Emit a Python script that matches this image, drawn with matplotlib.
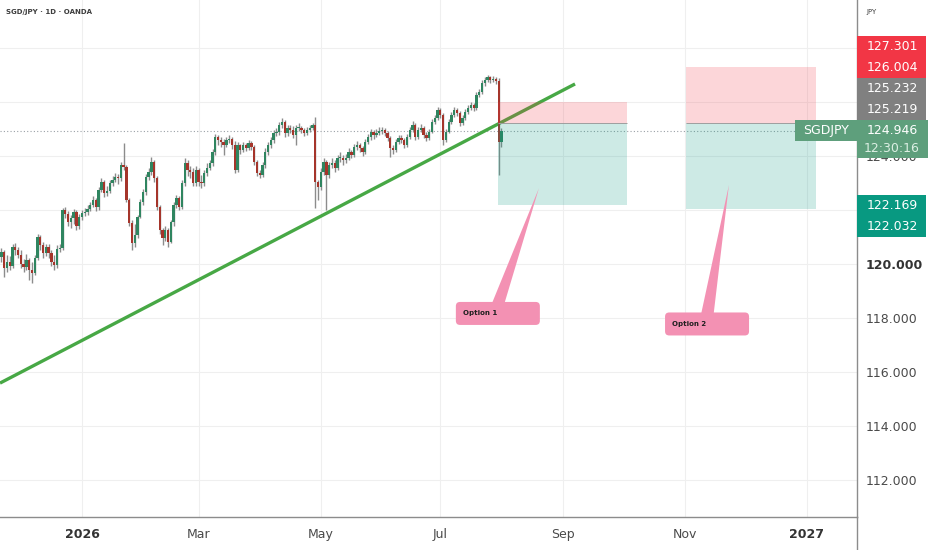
import numpy as np
import pandas as pd
import matplotlib
matplotlib.use('Agg')
import matplotlib.pyplot as plt
from matplotlib.patches import Rectangle, FancyBboxPatch, Polygon

# ---- daily candles (bar index 0 = first trading day of 2026) ----
first_bar = -29
first_open = 120.26
closes = [
    120.44, 119.85, 120.07, 119.93, 120.63, 120.52, 120.33, 120.00, 119.89, 120.15,
    119.78, 119.67, 120.22, 121.00, 120.70, 120.41, 120.63, 120.41, 120.07, 119.96,
    120.56, 120.59, 122.00, 121.85, 121.56, 121.70, 121.93, 121.41, 121.74, 121.89,
    121.93, 122.04, 122.19, 122.37, 122.11, 122.74, 123.04, 122.63, 122.70, 123.00,
    123.11, 123.22, 123.19, 123.67, 123.59,
    122.37, 121.52, 120.78, 121.07, 121.74, 122.30, 122.67, 123.22, 123.41, 123.78,
    123.19, 122.11, 121.26, 120.96, 121.26, 120.81, 121.56, 122.19, 122.44, 122.11,
    123.00, 123.74, 123.48, 123.41, 123.00, 123.48, 123.04, 123.00, 123.37, 123.56,
    123.74, 124.15, 124.70, 124.59, 124.52, 124.41, 124.59, 124.63, 124.41, 123.48,
    124.41, 124.22, 124.41, 124.30, 124.48, 124.33, 123.78,
    123.37, 123.30, 123.67, 124.15, 124.41, 124.59, 124.85, 124.89, 125.15, 125.26,
    124.85, 125.04, 124.96, 124.78, 125.04, 125.04, 124.96, 124.85, 124.96, 125.04,
    125.15, 123.04, 122.85, 123.41, 123.78, 123.30, 123.67, 123.74, 123.56, 123.93,
    123.93, 123.85, 123.93, 124.15, 124.04, 124.33, 124.41, 124.30, 124.15, 124.52,
    124.70, 124.89, 124.78, 124.85, 124.93,
    124.96, 124.85, 124.67, 124.30, 124.22, 124.52, 124.67, 124.59, 124.41, 124.70,
    124.96, 125.15, 124.70, 124.96, 125.04, 124.78, 124.67, 124.89, 125.26, 125.41,
    125.70, 125.52, 124.59, 124.89, 125.26, 125.52, 125.70, 125.59, 125.22, 125.41,
    125.63, 125.78, 125.89, 125.78, 126.26, 126.37, 126.70, 126.81, 126.93, 126.81,
    126.85, 126.78, 124.52, 124.946,
]
highs = [
    120.59, 120.52, 120.33, 120.30, 120.74, 120.78, 120.63, 120.52, 120.19, 120.37,
    120.22, 120.07, 120.33, 121.11, 121.07, 120.81, 120.74, 120.74, 120.52, 120.33,
    120.70, 120.74, 122.07, 122.11, 121.96, 121.81, 122.04, 122.00, 121.85, 122.00,
    122.07, 122.19, 122.30, 122.52, 122.44, 122.85, 123.19, 123.11, 122.89, 123.11,
    123.26, 123.37, 123.33, 123.78, 124.48,
    123.67, 122.44, 121.63, 121.48, 121.81, 122.41, 122.78, 123.33, 123.56, 123.96,
    123.85, 123.26, 122.19, 121.33, 121.41, 121.33, 121.63, 122.30, 122.56, 122.52,
    123.11, 123.93, 123.85, 123.63, 123.56, 123.63, 123.56, 123.30, 123.48, 123.74,
    123.85, 124.26, 124.81, 124.78, 124.70, 124.63, 124.70, 124.78, 124.70, 124.56,
    124.52, 124.44, 124.52, 124.48, 124.59, 124.56, 124.41,
    123.85, 123.48, 123.78, 124.30, 124.52, 124.70, 124.96, 125.04, 125.26, 125.41,
    125.33, 125.15, 125.15, 125.11, 125.15, 125.22, 125.11, 125.04, 125.07, 125.15,
    125.22, 125.44, 123.11, 123.56, 123.93, 123.85, 123.78, 123.93, 123.85, 124.04,
    124.15, 124.04, 124.07, 124.30, 124.22, 124.44, 124.56, 124.48, 124.37, 124.63,
    124.81, 125.00, 124.96, 125.00, 125.07,
    125.07, 125.04, 124.93, 124.74, 124.41, 124.63, 124.78, 124.78, 124.67, 124.81,
    125.07, 125.30, 125.22, 125.07, 125.19, 125.11, 124.89, 125.00, 125.37, 125.52,
    125.81, 125.78, 125.59, 125.00, 125.37, 125.63, 125.81, 125.78, 125.67, 125.52,
    125.74, 125.89, 126.00, 125.96, 126.37, 126.48, 126.81, 126.93, 127.00, 126.96,
    126.96, 126.93, 126.89, 125.04,
]
lows = [
    120.07, 119.52, 119.70, 119.78, 119.85, 120.33, 120.22, 119.85, 119.70, 119.78,
    119.41, 119.30, 119.59, 120.15, 120.52, 120.22, 120.30, 120.22, 119.93, 119.78,
    119.85, 120.44, 120.52, 121.70, 121.41, 121.33, 121.48, 121.26, 121.30, 121.63,
    121.78, 121.81, 121.96, 122.11, 121.96, 122.00, 122.67, 122.48, 122.52, 122.63,
    122.89, 123.04, 122.96, 123.07, 123.48,
    122.30, 121.41, 120.52, 120.63, 120.96, 121.70, 122.19, 122.56, 123.11, 123.30,
    123.04, 122.00, 121.11, 120.70, 120.85, 120.63, 120.78, 121.41, 122.07, 122.00,
    122.04, 122.89, 123.26, 123.19, 122.89, 122.89, 122.89, 122.81, 122.89, 123.26,
    123.48, 123.63, 124.04, 124.41, 124.33, 124.04, 124.33, 124.48, 124.26, 123.37,
    123.41, 124.07, 124.15, 124.19, 124.22, 124.22, 123.67,
    123.26, 123.19, 123.22, 123.56, 124.04, 124.30, 124.48, 124.74, 124.78, 125.04,
    124.70, 124.74, 124.85, 124.67, 124.41, 124.93, 124.85, 124.74, 124.78, 124.89,
    124.96, 122.07, 122.37, 122.74, 123.30, 122.00, 123.19, 123.56, 123.41, 123.48,
    123.78, 123.67, 123.74, 123.85, 123.93, 123.96, 124.22, 124.15, 124.00, 124.07,
    124.44, 124.59, 124.63, 124.70, 124.78,
    124.81, 124.74, 124.56, 123.96, 124.07, 124.15, 124.44, 124.48, 124.30, 124.33,
    124.63, 124.89, 124.59, 124.63, 124.89, 124.67, 124.56, 124.59, 124.85, 125.19,
    125.33, 125.41, 124.41, 124.52, 124.85, 125.19, 125.44, 125.48, 125.11, 125.15,
    125.33, 125.56, 125.70, 125.67, 125.70, 126.19, 126.30, 126.59, 126.74, 126.70,
    126.74, 126.67, 123.30, 124.33,
]

# time axis labels
tick_months = ['2026-01', '2026-03', '2026-05', '2026-07', '2026-09', '2026-11', '2027-01']
tick_labels = ['2026', 'Mar', 'May', 'Jul', 'Sep', 'Nov', '2027']
price_ticks = [112, 114, 116, 118, 120, 122, 124, 126, 128]
# scale labels covered by the price badges
covered_ticks = [122, 126, 128]

# trend line (bar index, price)
trend_bars = [-29.5, 177.5]
trend_prices = [115.59, 126.67]

last_price = 124.946
countdown = '12:30:16'
symbol = 'SGDJPY'

# short position tools
option_names = ['Option 1', 'Option 2']
opt_start = [149.8, 217.4]
opt_end = [196.2, 264.2]
opt_stop = [126.004, 127.301]
opt_entry = [125.219, 125.232]
opt_target = [122.169, 122.032]
# callout notes
note_bar = [134.6, 209.9]
note_price = [118.17, 117.78]
note_tip_bar = [164.5, 232.9]
note_tip_price = [122.81, 122.93]

# price scale badges
badge_text = ['127.301', '126.004', '125.232', '125.219', '122.169', '122.032']
badge_color = ['#f23645', '#f23645', '#808080', '#808080', '#089981', '#089981']

W, H = 932, 550
UP, DOWN, WICK = '#2f8560', '#a5352b', '#8c8c8c'
GREEN_TAG = '#5e9f7c'


def fx(x):
    return x / W


def fy(y):
    return 1 - y / H


fig = plt.figure(figsize=(W / 100, H / 100), dpi=100)
ax = fig.add_axes([0, 33 / H, 857 / W, 517 / H])
ax.set_xlim(-29.5, 279.0)
ax.set_ylim(110.63, 129.78)

# ticks
days = pd.bdate_range('2026-01-01', '2027-01-29')
month_str = days.strftime('%Y-%m')
tick_pos = [int(np.argmax(month_str == m)) for m in tick_months]
ax.set_xticks(tick_pos, tick_labels)
ax.set_yticks(price_ticks, ['' if p in covered_ticks else f'{p:.3f}' for p in price_ticks])
ax.yaxis.tick_right()
ax.tick_params(axis='both', length=0, labelsize=9, colors='#4a4a4a')
ax.tick_params(axis='x', pad=8)
ax.tick_params(axis='y', pad=6)
for lab in ax.get_xticklabels():
    if lab.get_text() in ('2026', '2027'):
        lab.set_fontweight('bold')
        lab.set_color('#333333')
for lab in ax.get_yticklabels():
    if lab.get_text() == '120.000':
        lab.set_fontweight('bold')
        lab.set_color('#333333')

ax.grid(True, color='#efefef', lw=0.8)
ax.set_axisbelow(True)
for s in ['top', 'left']:
    ax.spines[s].set_visible(False)
for s in ['bottom', 'right']:
    ax.spines[s].set_color('#8c8c8c')
    ax.spines[s].set_linewidth(1.0)

# candles
opens = [first_open] + closes[:-1]
xs = np.arange(first_bar, first_bar + len(closes))
o = np.array(opens)
c = np.array(closes)
cols = [UP if cc >= oo else DOWN for oo, cc in zip(o, c)]
ax.vlines(xs, lows, highs, color=WICK, lw=1.0, zorder=2)
ax.bar(xs, np.maximum(np.abs(c - o), 0.03), bottom=np.minimum(o, c), width=0.82,
       color=cols, lw=0, zorder=2.5)

# trend line
ax.plot(trend_bars, trend_prices, color='#47a845', lw=2.4, solid_capstyle='butt', zorder=2.2)

# last price dotted line
ax.axhline(last_price, color='#9aa0a6', lw=0.8, ls=(0, (1, 2)), zorder=1.5)

# position tools
for s, e, stp, ent, tgt in zip(opt_start, opt_end, opt_stop, opt_entry, opt_target):
    ax.add_patch(Rectangle((s, ent), e - s, stp - ent, facecolor=(242/255, 54/255, 69/255, 0.2),
                           edgecolor='none', zorder=3))
    ax.add_patch(Rectangle((s, tgt), e - s, ent - tgt, facecolor=(8/255, 153/255, 129/255, 0.2),
                           edgecolor='none', zorder=3))
    ax.hlines(ent, s, e, color='#9e9e9e', lw=0.7, zorder=3.1)

# callouts
px_x = 1 / 2.778   # bars per pixel
px_y = 1 / 27.0    # price per pixel
box_w, box_h = 84 * px_x, 23 * px_y
PINK = '#f391b3'
for name, nb, npr, tb, tp in zip(option_names, note_bar, note_price, note_tip_bar, note_tip_price):
    top = npr + box_h / 2
    ax.add_patch(Polygon([(nb + 13.0, top - 0.05), (nb + 17.5, top - 0.05), (tb, tp)],
                         closed=True, facecolor=PINK, edgecolor='none', zorder=4))
    ax.add_patch(FancyBboxPatch((nb, npr - box_h / 2), box_w, box_h,
                                boxstyle='round,pad=0,rounding_size=1.5',
                                mutation_aspect=px_y / px_x,
                                facecolor=PINK, edgecolor='none', zorder=4))
    ax.text(nb + 7 * px_x, npr, name, fontsize=5, fontweight='bold', color='#1f1f1f',
            va='center', ha='left', zorder=5)

# header
fig.text(fx(6), fy(12), 'SGD/JPY · 1D · OANDA', fontsize=5, fontweight='bold',
         color='#3d3d3d', va='center', ha='left')
fig.text(fx(866), fy(12), 'JPY', fontsize=5, color='#3d3d3d', va='center', ha='left')

# right axis line extends into the time scale
fig.add_artist(plt.Line2D([fx(857), fx(857)], [0, fy(517)], color='#8c8c8c', lw=1.0))

# price scale badges
badge_tops = [36, 57, 78, 99, 195, 216]
for txt, col, top in zip(badge_text, badge_color, badge_tops):
    fig.add_artist(Rectangle((fx(857), fy(top + 21)), 69 / W, 21 / H, transform=fig.transFigure,
                             facecolor=col, edgecolor='none', zorder=5))
    fig.text(fx(892), fy(top + 10.5), txt, fontsize=9, color='white', ha='center',
             va='center', zorder=6)

# current price badge and symbol tag
fig.add_artist(Rectangle((fx(857), fy(158)), 71 / W, 38 / H, transform=fig.transFigure,
                         facecolor=GREEN_TAG, edgecolor='none', zorder=5))
fig.text(fx(892), fy(130), f'{last_price:.3f}', fontsize=9, color='white', ha='center',
         va='center', zorder=6)
fig.text(fx(892), fy(148), countdown, fontsize=9, color='#dcefe3', ha='center',
         va='center', zorder=6)
fig.add_artist(Rectangle((fx(795), fy(141)), 62 / W, 21 / H, transform=fig.transFigure,
                         facecolor=GREEN_TAG, edgecolor='none', zorder=5))
fig.text(fx(826), fy(130.5), symbol, fontsize=9, color='white', ha='center',
         va='center', zorder=6)

fig.savefig('out.png', dpi=100)
